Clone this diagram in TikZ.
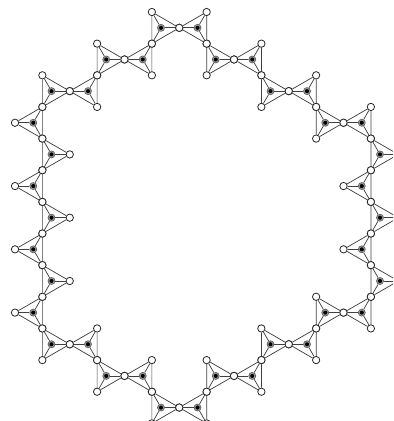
\documentclass[tikz,border=0pt]{standalone}
\usepackage{amsmath,amssymb,amsthm}
\usepackage{tikz}
\usepackage{xcolor}

% side column / top row / direction of each triangle, going round the ring
\newcommand{\ringlist}{5/0/1,7/0/-1,7/2/1,9/2/-1,9/4/1,11/4/-1,11/6/1,13/6/-1,
  13/8/1,13/10/-1,13/12/1,13/14/-1,13/16/1,13/18/-1,11/18/1,11/20/-1,9/20/1,
  9/22/-1,7/22/1,7/24/-1,5/24/1,5/22/-1,3/22/1,3/20/-1,1/20/1,1/18/-1,1/16/1,
  1/14/-1,1/12/1,1/10/-1,1/8/1,1/6/-1,1/4/1,3/4/-1,3/2/1,5/2/-1}

\tikzset{
  vtx/.style={circle,draw=black!85,fill=white,line width=0.6pt,inner sep=0pt,minimum size=5.5pt},
  cdot/.style={circle,draw=black!60,fill=black!35,line width=0.6pt,inner sep=0pt,minimum size=5.2pt,
    path picture={\fill[black] (path picture bounding box.center) circle (1.55pt);}},
  edge/.style={draw=black!75,line width=0.55pt}
}

\begin{document}
\begin{tikzpicture}[x=20.53pt,y=-11.865pt]
  \useasboundingbox (-0.548,-0.759) rectangle (13.81,25.85);
  \clip (-0.548,-0.759) rectangle (13.81,25.85);
  % vertices and centres
  \foreach \s/\r/\d in \ringlist {
    \pgfmathtruncatemacro{\a}{\s+\d}
    \pgfmathtruncatemacro{\m}{\r+1}
    \pgfmathtruncatemacro{\b}{\r+2}
    \node[vtx] (v-\s-\r) at (\s,\r) {};
    \node[vtx] (v-\s-\b) at (\s,\b) {};
    \node[vtx] (v-\a-\m) at (\a,\m) {};
    \node[cdot] (c-\s-\r) at ({\s+\d*0.333},\m) {};
  }
  % edges end on the node borders
  \foreach \s/\r/\d in \ringlist {
    \pgfmathtruncatemacro{\a}{\s+\d}
    \pgfmathtruncatemacro{\m}{\r+1}
    \pgfmathtruncatemacro{\b}{\r+2}
    \draw[edge] (v-\s-\r) -- (v-\s-\b) -- (v-\a-\m) -- (v-\s-\r);
    \draw[edge] (c-\s-\r) -- (v-\s-\r);
    \draw[edge] (c-\s-\r) -- (v-\s-\b);
    \draw[edge] (c-\s-\r) -- (v-\a-\m);
  }
\end{tikzpicture}
\end{document}
